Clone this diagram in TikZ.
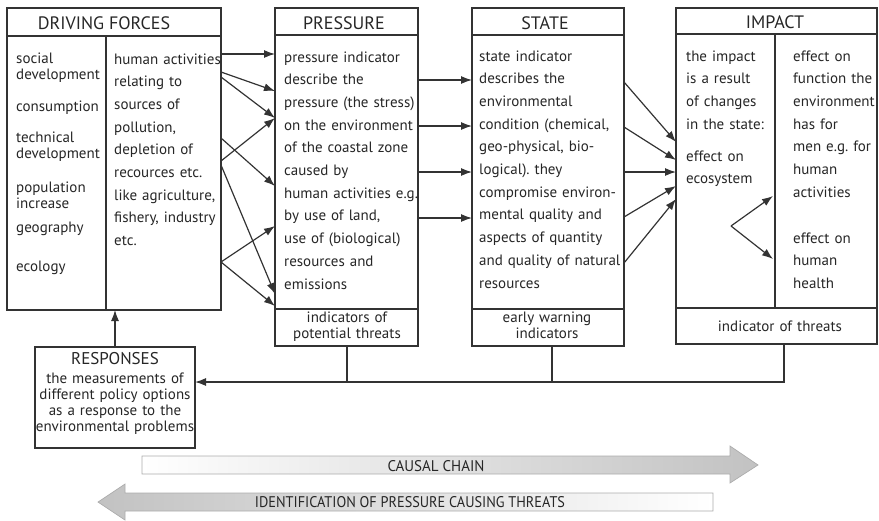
\documentclass[tikz,border=0pt]{standalone}
\usepackage{fontspec}
\setmainfont{PT Sans}
\usepackage{graphicx}
\usetikzlibrary{arrows.meta}
\definecolor{ink}{HTML}{333333}
\definecolor{textink}{HTML}{262626}
\definecolor{bandgray}{HTML}{C2C2C2}
\frenchspacing
\begin{document}
\begin{tikzpicture}[x=1pt,y=-1pt,
  every node/.style={text=textink},
  frame/.style={draw=ink, line width=1.3pt, anchor=north west, inner sep=0pt, outer sep=0pt},
  rule/.style={draw=ink, line width=1.3pt},
  arr/.style={draw=ink, line width=1.2pt, -{Latex[length=11pt,width=8pt]}},
  head/.style={font=\fontsize{18}{20}\selectfont, inner sep=0pt, anchor=base},
  body/.style={font=\fontsize{15}{22.7}\selectfont, inner sep=0pt, anchor=base west, align=left},
  tight/.style={font=\fontsize{15}{16}\selectfont, inner sep=0pt, anchor=base west, align=left},
  note/.style={font=\fontsize{15}{16}\selectfont, inner sep=0pt, anchor=base, align=center},
  band/.style={draw=gray!65, line width=0.7pt},
  bandtext/.style={inner sep=0pt, anchor=center},
]
\useasboundingbox (0,0) rectangle (879,520);

% ---------- DRIVING FORCES ----------
\node[frame, minimum width=214, minimum height=302] (df) at (7,8) {};
\draw[rule] (df.west |- 0,36) -- (df.east |- 0,36);
\draw[rule] (106,36) -- (106,310);
\node[head] (dft) at (104,29) {DRIVING FORCES};
\node[tight, text width=90] (dfa) at (16,63) {social\\development};
\node[tight, text width=90] (dfb) at (16,111) {consumption};
\node[tight, text width=90] (dfc) at (16,142) {technical\\development};
\node[tight, text width=90] (dfd) at (16,192) {population\\increase};
\node[tight, text width=90] (dfe) at (16,232) {geography};
\node[tight, text width=90] (dff) at (16,271) {ecology};
\node[body, text width=108] (dfg) at (114,64) {human activities\\relating to\\sources of\\pollution,\\depletion of\\recources etc.\\like agriculture,\\fishery, industry\\etc.};

% ---------- PRESSURE ----------
\node[frame, minimum width=143, minimum height=338] (pr) at (275,8) {};
\draw[rule] (pr.west |- 0,35) -- (pr.east |- 0,35);
\draw[rule] (pr.west |- 0,309) -- (pr.east |- 0,309);
\node[head] (prt) at (344,29) {PRESSURE};
\node[body, text width=135] (prb) at (284,62) {pressure indicator\\describe the\\pressure (the stress)\\on the environment\\of the coastal zone\\caused by\\human activities e.g.\\by use of land,\\use of (biological)\\resources and\\emissions};
\node[note, text width=140] (pri) at (347,322) {indicators of\\potential threats};

% ---------- STATE ----------
\node[frame, minimum width=152, minimum height=338] (st) at (472,8) {};
\draw[rule] (st.west |- 0,35) -- (st.east |- 0,35);
\draw[rule] (st.west |- 0,309) -- (st.east |- 0,309);
\node[head] (stt) at (545,29) {STATE};
\node[body, text width=145] (stb) at (479,61) {state indicator\\describes the\\environmental\\condition (chemical,\\geo-physical, bio-\\logical). they\\compromise environ-\\mental quality and\\aspects of quantity\\and quality of natural\\resources};
\node[note, text width=150] (sti) at (547,322) {early warning\\indicators};

% ---------- IMPACT ----------
\node[frame, minimum width=201, minimum height=336] (im) at (676,8) {};
\draw[rule] (im.west |- 0,34) -- (im.east |- 0,34);
\draw[rule] (im.west |- 0,308) -- (im.east |- 0,308);
\draw[rule] (775,34) -- (775,308);
\node[head] (imt) at (775,28) {IMPACT};
\node[body, text width=88] (ima) at (686,61) {the impact\\is a result\\of changes\\in the state:};
\node[body, text width=88] (imb) at (686,161) {effect on\\ecosystem};
\node[body, text width=90] (imc) at (793,61) {effect on\\function the\\environment\\has for\\men e.g. for\\human\\activities};
\node[body, text width=90] (imd) at (793,243) {effect on\\human\\health};
\node[note, text width=190] (imi) at (780,331) {indicator of threats};
\coordinate (fork) at (731,226);
\draw[arr] (fork) -- (773,196);
\draw[arr] (fork) -- (773,259);

% ---------- RESPONSES ----------
\node[frame, minimum width=160, minimum height=101] (resp) at (35,347) {};
\node[head, font=\fontsize{17}{18}\selectfont] (respt) at (115,364) {RESPONSES};
\node[note, text width=180] (respb) at (115,383) {the measurements of\\different policy options\\as a response to the\\environmental problems};

% ---------- connectors: driving forces -> pressure ----------
\draw[arr] (df.east |- 0,54)  -- (pr.west |- 0,54);
\draw[arr] (df.east |- 0,72)  -- (pr.west |- 0,91);
\draw[arr] (df.east |- 0,77)  -- (pr.west |- 0,118);
\draw[arr] (df.east |- 0,161) -- (pr.west |- 0,118);
\draw[arr] (df.east |- 0,138) -- (pr.west |- 0,186);
\draw[arr] (df.east |- 0,165) -- (pr.west |- 0,294);
\draw[arr] (df.east |- 0,262) -- (pr.west |- 0,226);
\draw[arr] (df.east |- 0,262) -- (pr.west |- 0,306);

% ---------- pressure -> state ----------
\foreach \yy in {80,126,172,218}
  \draw[arr] (pr.east |- 0,\yy) -- (st.west |- 0,\yy);

% ---------- state -> impact ----------
\draw[arr] (st.east |- 0,82)  -- (im.west |- 0,142);
\draw[arr] (st.east |- 0,127) -- (im.west |- 0,160);
\draw[arr] (st.east |- 0,172) -- (im.west |- 0,172);
\draw[arr] (st.east |- 0,217) -- (im.west |- 0,186);
\draw[arr] (st.east |- 0,263) -- (im.west |- 0,199);

% ---------- feedback to responses ----------
\draw[arr] (784,0 |- im.south) -- (784,382) -- (resp.east |- 0,382);
\draw[rule] (347,0 |- pr.south) -- (347,382);
\draw[rule] (552,0 |- st.south) -- (552,382);
\draw[arr] (resp.north -| 115,0) -- (df.south -| 115,0);

% ---------- causal chain bands ----------
\draw[band, left color=white, right color=bandgray]
  (142,456) -- (730,456) -- (730,446) -- (758,465) -- (730,483) -- (730,474) -- (142,474) -- cycle;
\node[bandtext] (causal) at (436,466) {\resizebox{97pt}{11pt}{CAUSAL CHAIN}};
\draw[band, left color=bandgray, right color=white]
  (713,493) -- (125,493) -- (125,484) -- (98,502) -- (125,520) -- (125,511) -- (713,511) -- cycle;
\node[bandtext] (ident) at (410,502.5) {\resizebox{310pt}{11pt}{IDENTIFICATION OF PRESSURE CAUSING THREATS}};
\end{tikzpicture}
\end{document}
